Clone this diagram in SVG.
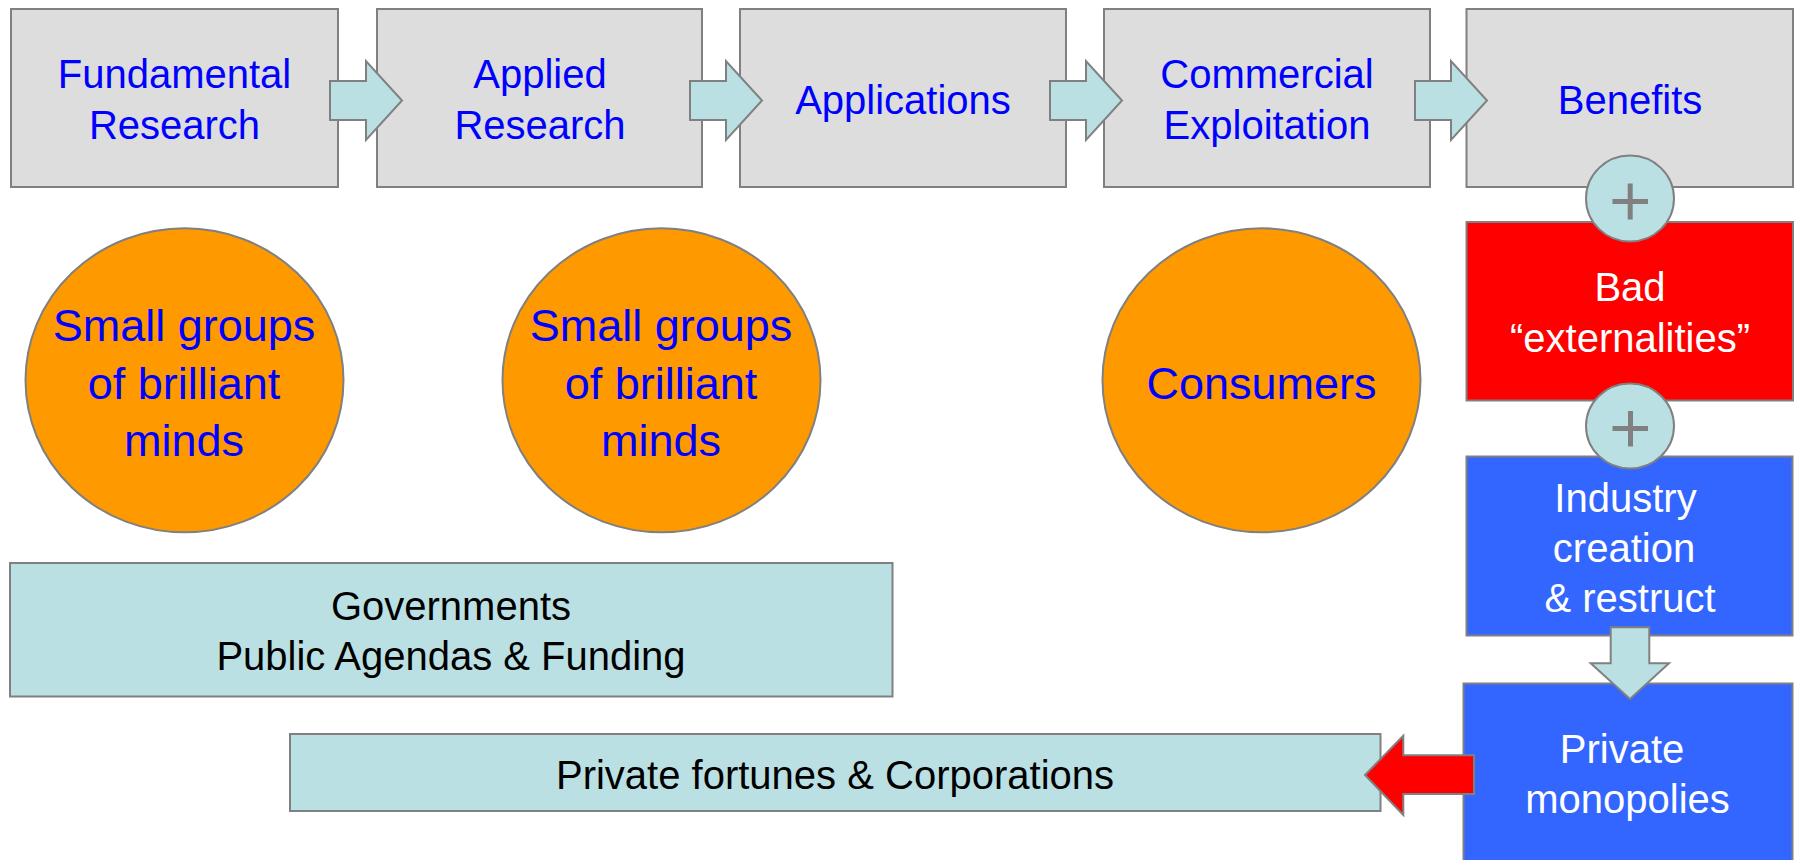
<svg xmlns="http://www.w3.org/2000/svg" width="1802" height="860" viewBox="0 0 1802 860">
<style>
  text { font-family: "Liberation Sans", Arial, sans-serif; text-anchor: middle; }
  .gray { fill: #DDDDDD; stroke: #808080; stroke-width: 2; }
  .cyan { fill: #BAE0E3; stroke: #808080; stroke-width: 2; }
  .orange { fill: #FF9900; stroke: #808080; stroke-width: 2; }
  .red { fill: #FF0000; stroke: #808080; stroke-width: 2; }
  .blue { fill: #3366FF; stroke: #808080; stroke-width: 2; }
  .tb { fill: #0000FF; font-size: 40px; }
  .tc { fill: #0000FF; font-size: 45px; }
  .tw { fill: #FFFFFF; font-size: 40px; }
  .tk { fill: #000000; font-size: 40px; }
  .arrow { fill: #BAE0E3; stroke: #808080; stroke-width: 2; stroke-linejoin: miter; }
  .plus { stroke: #808080; stroke-width: 5; fill: none; }
</style>
<defs>
  <path id="rarrow" d="M0,-19.5 H36 V-39.5 L72,0 L36,39.5 V19.5 H0 Z"/>
</defs>

<g id="fundamental-research">
  <rect class="gray" x="11" y="9" width="327" height="178"/>
  <text class="tb" x="174.5" y="88">Fundamental</text>
  <text class="tb" x="174.5" y="139">Research</text>
</g>
<g id="applied-research">
  <rect class="gray" x="377" y="9" width="325" height="178"/>
  <text class="tb" x="540" y="88">Applied</text>
  <text class="tb" x="540" y="139">Research</text>
</g>
<g id="applications">
  <rect class="gray" x="740" y="9" width="326" height="178"/>
  <text class="tb" x="903" y="114">Applications</text>
</g>
<g id="commercial-exploitation">
  <rect class="gray" x="1104" y="9" width="326" height="178"/>
  <text class="tb" x="1267" y="88">Commercial</text>
  <text class="tb" x="1267" y="139">Exploitation</text>
</g>
<g id="benefits">
  <rect class="gray" x="1466.5" y="9" width="326.5" height="178"/>
  <text class="tb" x="1630" y="114">Benefits</text>
</g>

<g id="minds-1">
  <ellipse class="orange" cx="184.5" cy="380.3" rx="159" ry="152"/>
  <text class="tc" x="184" y="340.7">Small groups</text>
  <text class="tc" x="184" y="399">of brilliant</text>
  <text class="tc" x="184" y="455.7">minds</text>
</g>
<g id="minds-2">
  <ellipse class="orange" cx="661.5" cy="380.3" rx="159" ry="152"/>
  <text class="tc" x="661" y="340.7">Small groups</text>
  <text class="tc" x="661" y="399">of brilliant</text>
  <text class="tc" x="661" y="455.7">minds</text>
</g>
<g id="consumers">
  <ellipse class="orange" cx="1261.5" cy="380.3" rx="159" ry="152"/>
  <text class="tc" x="1261.5" y="399.3">Consumers</text>
</g>

<g id="bad-externalities">
  <rect class="red" x="1466.5" y="222" width="326.5" height="178.5"/>
  <text class="tw" x="1630" y="301">Bad</text>
  <text class="tw" x="1630" y="352.3">“externalities”</text>
</g>
<g id="industry-creation">
  <rect class="blue" x="1466.5" y="456.5" width="326" height="179"/>
  <text class="tw" x="1625.5" y="511.7">Industry</text>
  <text class="tw" x="1624" y="561.7">creation</text>
  <text class="tw" x="1630" y="612.3">&amp; restruct</text>
</g>
<g id="private-monopolies">
  <rect class="blue" x="1463.5" y="683.5" width="329" height="190"/>
  <text class="tw" x="1622" y="763.3">Private</text>
  <text class="tw" x="1627.5" y="813.3">monopolies</text>
</g>

<g id="governments">
  <rect class="cyan" x="10" y="563" width="882.5" height="133.5"/>
  <text class="tk" x="451" y="620">Governments</text>
  <text class="tk" x="451" y="670">Public Agendas &amp; Funding</text>
</g>
<g id="private-fortunes">
  <rect class="cyan" x="290" y="734" width="1090.5" height="77"/>
  <text class="tk" x="835" y="789">Private fortunes &amp; Corporations</text>
</g>

<g id="plus-1">
  <ellipse class="cyan" cx="1630" cy="198.5" rx="44" ry="43"/>
  <path class="plus" d="M1612.5,201.5 H1648 M1630.2,183.5 V219.5"/>
</g>
<g id="plus-2">
  <ellipse class="cyan" cx="1630" cy="426" rx="44" ry="42.5"/>
  <path class="plus" d="M1612.5,428.5 H1648 M1630.5,411 V446.5"/>
</g>

<g id="connectors">
  <use href="#rarrow" class="arrow" x="330" y="100.5"/>
  <use href="#rarrow" class="arrow" x="690" y="100.5"/>
  <use href="#rarrow" class="arrow" x="1050" y="100.5"/>
  <use href="#rarrow" class="arrow" x="1415" y="100.5"/>
  <path class="arrow" d="M1610.7,627.3 H1649.3 V663.3 H1669 L1630,699 L1590.7,663.3 H1610.7 Z"/>
  <path class="red" d="M1474,755.3 H1403.3 V735.7 L1365,775 L1403.3,815 V794 H1474 Z"/>
</g>
</svg>
